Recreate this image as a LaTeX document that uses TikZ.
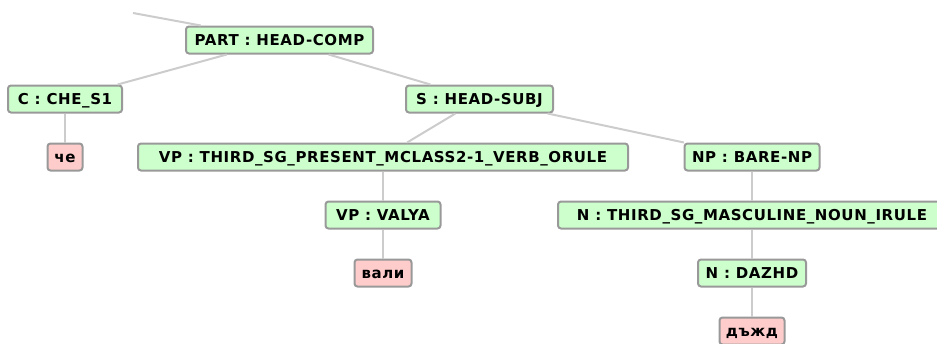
\documentclass[tikz,border=0pt]{standalone}
\usepackage{fontspec}
\setmainfont{DejaVu Sans}[LetterSpace=4]
\definecolor{phraseGreen}{HTML}{CCFFCC}
\definecolor{wordPink}{HTML}{FFCCCC}
\definecolor{boxEdge}{HTML}{999999}
\definecolor{branchGray}{HTML}{CCCCCC}
\tikzset{
  cat box/.style = {draw=boxEdge, line width=2pt, rounded corners=3pt, fill=#1,
    minimum height=27pt, inner sep=0pt, text height=11pt, text depth=0pt,
    font=\bfseries\fontsize{15}{18}\selectfont},
  phrase/.style = {cat box=phraseGreen, minimum width=#1},
  word/.style = {cat box=wordPink, minimum width=#1},
  branch/.style = {color=#1, line width=2pt}
}

\begin{document}
\begin{tikzpicture}[x=1pt, y=-1pt]

    \useasboundingbox (0,0) rectangle (937,343);

    % Coordinates
    \coordinate (upper) at (133,13);

    % Phrases
    \node[phrase=187pt] (part) at (279.5,40) {PART : HEAD-COMP};
    \node[phrase=114pt] (che) at (65,99) {C : CHE\_S1};
    \node[phrase=147pt] (subj) at (479.5,99) {S : HEAD-SUBJ};
    \node[phrase=490pt] (verb) at (383,157) {VP : THIRD\_SG\_PRESENT\_MCLASS2-1\_VERB\_ORULE};
    \node[phrase=135pt] (np) at (752,157) {NP : BARE-NP};
    \node[phrase=115pt] (valya) at (383,215) {VP : VALYA};
    \node[phrase=388pt] (noun) at (752,215) {N : THIRD\_SG\_MASCULINE\_NOUN\_IRULE};
    \node[phrase=108pt] (dazhd) at (752,273) {N : DAZHD};

    % Words
    \node[word=35pt] (w1) at (65,157) {че};
    \node[word=57pt] (w2) at (383,273) {вали};
    \node[word=65pt] (w3) at (752,331) {дъжд};

    % Branches
    \draw[branch={branchGray}] (upper) -- (part);
    \draw[branch={branchGray}] (part) -- (che);
    \draw[branch={branchGray}] (part) -- (subj);
    \draw[branch={branchGray}] (che) -- (w1);
    \draw[branch={branchGray}] (subj) -- (verb);
    \draw[branch={branchGray}] (subj) -- (np);
    \draw[branch={branchGray}] (verb) -- (valya);
    \draw[branch={branchGray}] (valya) -- (w2);
    \draw[branch={branchGray}] (np) -- (noun);
    \draw[branch={branchGray}] (noun) -- (dazhd);
    \draw[branch={branchGray}] (dazhd) -- (w3);

\end{tikzpicture}
\end{document}
